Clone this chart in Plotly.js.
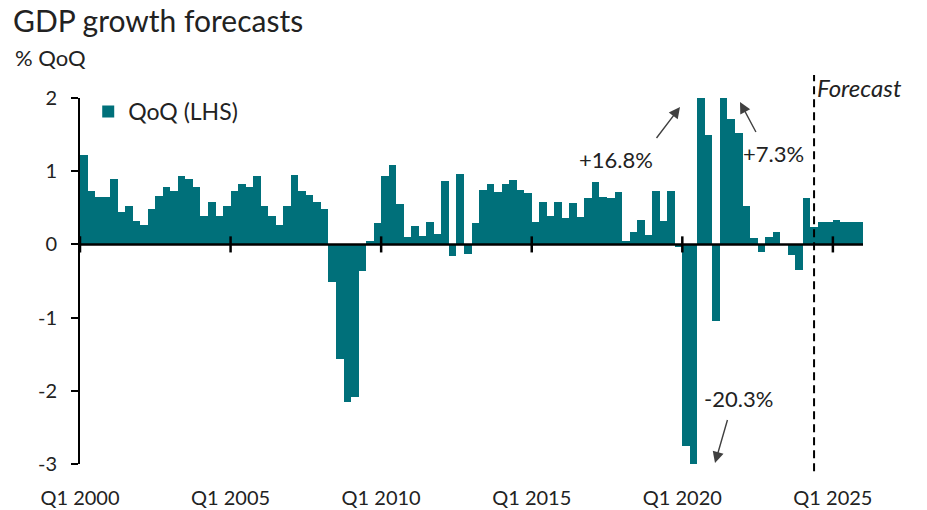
<!DOCTYPE html>
<html>
<head>
<meta charset="utf-8">
<script src="https://cdn.plot.ly/plotly-3.0.1.min.js"></script>
<style>html,body{margin:0;padding:0;background:#fff}#chart{width:927px;height:510px}</style>
</head>
<body>
<div id="chart"></div>
<script>
// ---- data ----
const firstYear = 2000;
const lastYear = 2025;
const quarters = ['Q1', 'Q2', 'Q3', 'Q4'];
const categories = [];
for (let y = firstYear; y <= lastYear; y++) quarters.forEach(q => categories.push(q + ' ' + y));

// % QoQ GDP growth, Q1 2000 .. Q4 2025 (one row per year)
const qoq = [
  1.22, 0.73, 0.65, 0.65,
  0.90, 0.44, 0.53, 0.32,
  0.26, 0.49, 0.66, 0.78,
  0.73, 0.93, 0.89, 0.78,
  0.39, 0.58, 0.39, 0.52,
  0.73, 0.83, 0.79, 0.93,
  0.52, 0.39, 0.27, 0.52,
  0.95, 0.73, 0.67, 0.58,
  0.48, -0.52, -1.57, -2.15,
  -2.08, -0.36, 0.05, 0.29,
  0.93, 1.09, 0.55, 0.10,
  0.25, 0.11, 0.31, 0.14,
  0.86, -0.16, 0.96, -0.13,
  0.29, 0.74, 0.83, 0.71,
  0.83, 0.88, 0.75, 0.70,
  0.30, 0.58, 0.39, 0.58,
  0.36, 0.57, 0.37, 0.63,
  0.85, 0.65, 0.63, 0.71,
  0.05, 0.17, 0.34, 0.13,
  0.73, 0.32, 0.73, -0.04,
  -2.75, -20.3, 16.8, 1.49,
  -1.05, 7.3, 1.72, 1.52,
  0.53, 0.09, -0.10, 0.10,
  0.17, 0.01, -0.15, -0.35,
  0.63, 0.24, 0.30, 0.30,
  0.34, 0.30, 0.30, 0.30
];

const tickLabels = ['Q1 2000', 'Q1 2005', 'Q1 2010', 'Q1 2015', 'Q1 2020', 'Q1 2025'];
const yTicks = [2, 1, 0, -1, -2, -3];
const yTickLabels = ['2', '1', '0', '-1', '-2', '-3'];
const forecastStart = 'Q2 2024';
const calloutLabels = ['+16.8%', '+7.3%', '-20.3%'];

// ---- build ----
const idx = categories.map((_, i) => i);
const tickPos = tickLabels.map(t => categories.indexOf(t) - 0.5);
const fcX = categories.indexOf(forecastStart);

const FONT = 'Lato, "Open Sans", sans-serif';
const TEAL = '#00707a';
const INK = '#222';

const trace = {
  type: 'bar',
  x: idx,
  y: qoq,
  customdata: categories,
  hovertemplate: '%{customdata}: %{y}%<extra></extra>',
  textposition: 'none',
  marker: {color: TEAL, line: {width: 0}},
  name: 'QoQ (LHS)',
  showlegend: true
};

const shapes = [
  // zero line
  {type: 'line', xref: 'paper', yref: 'y', x0: 0, x1: 1, y0: 0, y1: 0,
   line: {color: '#000', width: 2.5}, layer: 'above'},
  // forecast divider
  {type: 'line', xref: 'x', yref: 'paper', x0: fcX, x1: fcX, y0: -0.02, y1: 1.063,
   line: {color: '#000', width: 2, dash: '8px,5px'}, layer: 'above'}
];
tickPos.forEach(p => shapes.push({
  type: 'line', xref: 'x', yref: 'y', x0: p, x1: p, y0: -0.11, y1: 0.11,
  line: {color: '#000', width: 2.5}, layer: 'above'
}));

const arrowStyle = {text: ' ', showarrow: true, arrowhead: 2, arrowsize: 1.6,
  arrowwidth: 1.4, arrowcolor: '#404040', xref: 'paper', yref: 'paper', standoff: 0,
  xanchor: 'center', yanchor: 'middle', font: {size: 1}};
const txtFont = {family: FONT, size: 22, color: INK};
const txt = (x, y, t) => ({xref: 'paper', yref: 'paper', x: x, y: y, text: t, showarrow: false,
  xanchor: 'center', yanchor: 'middle', font: txtFont});

const annotations = [
  {xref: 'paper', yref: 'paper', x: -0.0856, y: 1.112, xanchor: 'left', yanchor: 'middle',
   text: '% QoQ', showarrow: false, font: {family: FONT, size: 22, color: INK}},
  {xref: 'paper', yref: 'paper', x: 0.9385, y: 1.03, xanchor: 'left', yanchor: 'middle',
   text: '<i>Forecast</i>', showarrow: false, font: {family: FONT, size: 24, color: INK}},
  Object.assign({}, arrowStyle, {x: 0.7663, y: 0.9754, ax: -25, ay: 33}),
  Object.assign({}, arrowStyle, {x: 0.8429, y: 0.9891, ax: 17, ay: 32}),
  Object.assign({}, arrowStyle, {x: 0.8110, y: 0.0027, ax: 13, ay: -45}),
  txt(0.6845, 0.8333, calloutLabels[0]),
  txt(0.8857, 0.847, calloutLabels[1]),
  txt(0.8416, 0.1776, calloutLabels[2])
];

const layout = {
  width: 927, height: 510,
  margin: {l: 80, r: 64, t: 98, b: 46},
  paper_bgcolor: '#fff', plot_bgcolor: '#fff',
  font: {family: FONT, size: 20, color: INK},
  title: {text: 'GDP growth forecasts', x: 0.014, xanchor: 'left', xref: 'container',
          y: 0.958, yanchor: 'middle', yref: 'container',
          font: {family: FONT, size: 30, color: INK}},
  bargap: 0,
  showlegend: true,
  legend: {x: 0.0105, y: 1.022, xanchor: 'left', yanchor: 'top', bgcolor: 'rgba(0,0,0,0)',
           font: {family: FONT, size: 23, color: INK}, itemwidth: 30},
  xaxis: {
    range: [-0.5, categories.length - 0.5],
    tickvals: tickPos, ticktext: tickLabels,
    ticks: '', showline: false, showgrid: false, zeroline: false,
    ticklabelstandoff: 20,
    tickfont: {family: FONT, size: 20, color: INK}
  },
  yaxis: {
    range: [-3, 2],
    tickvals: yTicks, ticktext: yTickLabels,
    ticks: 'outside', ticklen: 7, tickwidth: 2, tickcolor: '#000',
    showline: true, linecolor: '#000', linewidth: 2,
    showgrid: false, zeroline: false,
    ticklabelstandoff: 10,
    tickfont: {family: FONT, size: 20, color: INK}
  },
  shapes: shapes,
  annotations: annotations
};

Plotly.newPlot('chart', [trace], layout, {displayModeBar: false, staticPlot: true});
</script>
</body>
</html>
